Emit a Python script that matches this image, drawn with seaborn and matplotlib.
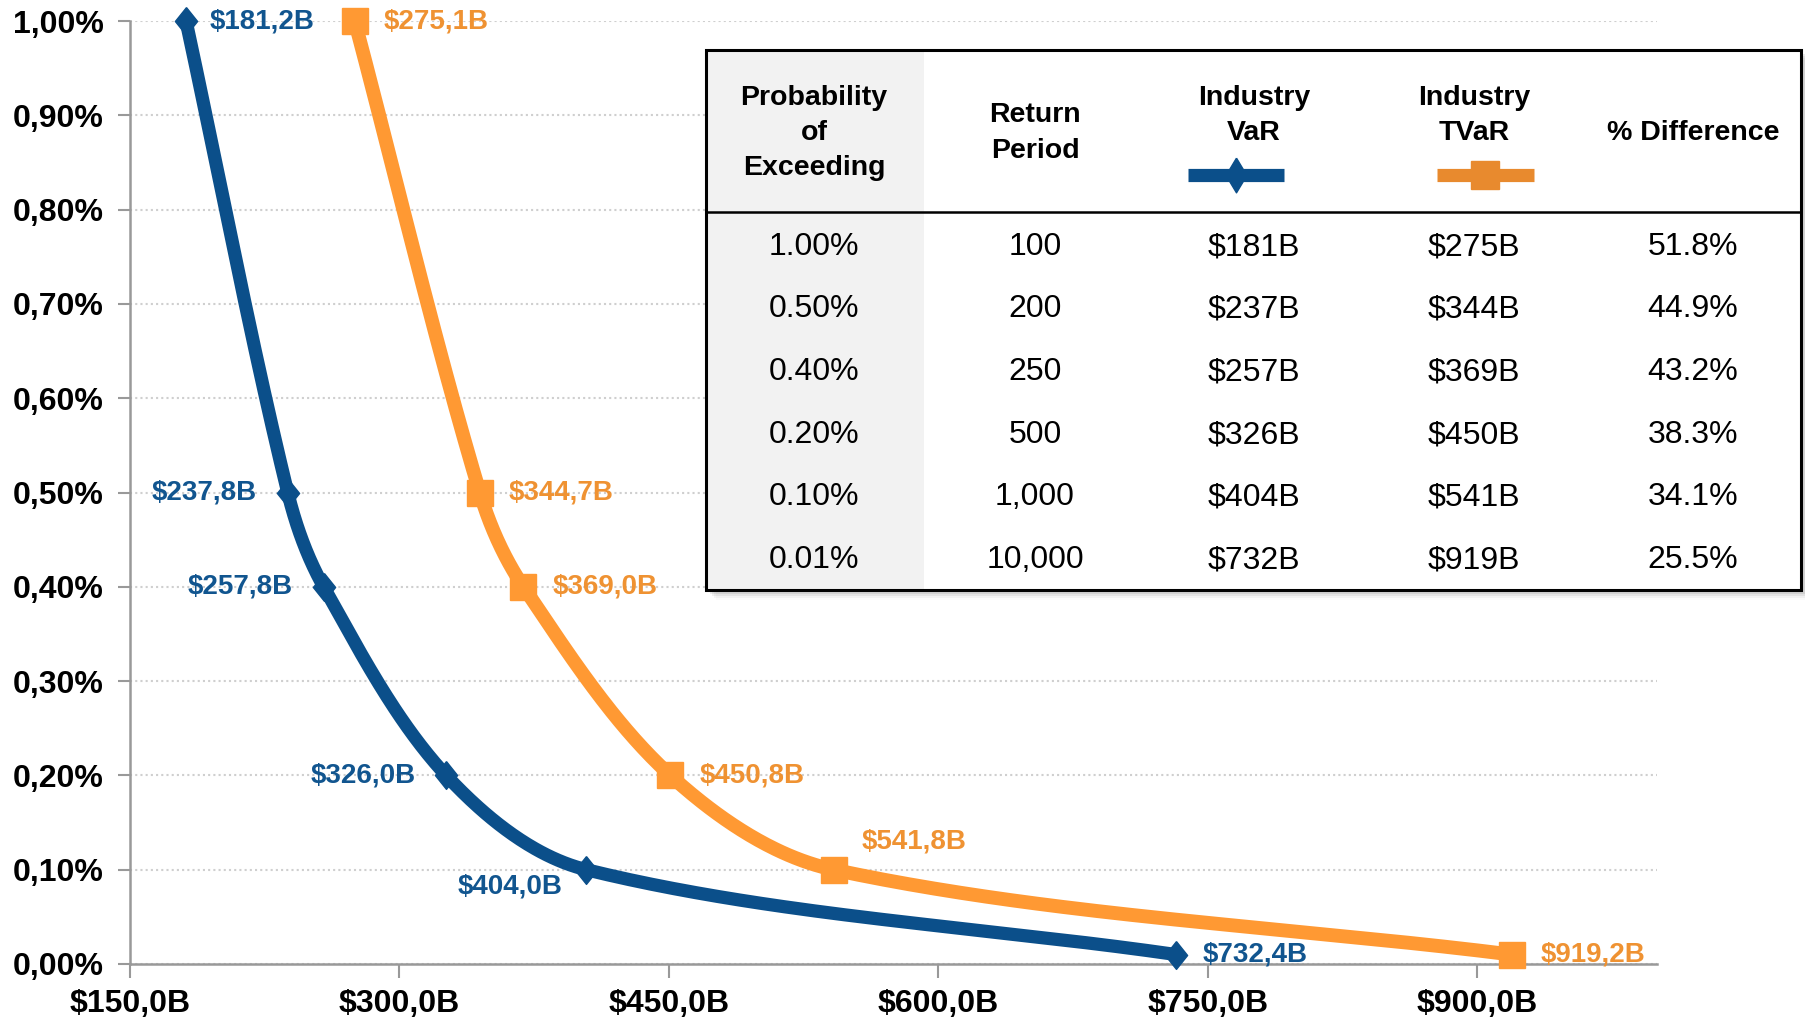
import numpy as np
import pandas as pd
import matplotlib
matplotlib.use("Agg")
import matplotlib.pyplot as plt
import seaborn as sns
from matplotlib.patches import Rectangle
from matplotlib.lines import Line2D

# ---------------- data ----------------
prob = [0.0100, 0.0050, 0.0040, 0.0020, 0.0010, 0.0001]
var_vals = [181.2, 237.8, 257.8, 326.0, 404.0, 732.4]
tvar_vals = [275.1, 344.7, 369.0, 450.8, 541.8, 919.2]
var_labels = ["$181,2B", "$237,8B", "$257,8B", "$326,0B", "$404,0B", "$732,4B"]
tvar_labels = ["$275,1B", "$344,7B", "$369,0B", "$450,8B", "$541,8B", "$919,2B"]
x_ticks = [150, 300, 450, 600, 750, 900]
x_ticklabels = ["$150,0B", "$300,0B", "$450,0B", "$600,0B", "$750,0B", "$900,0B"]
y_ticks = [0.000, 0.001, 0.002, 0.003, 0.004, 0.005, 0.006, 0.007, 0.008, 0.009, 0.010]
y_ticklabels = ["0,00%", "0,10%", "0,20%", "0,30%", "0,40%", "0,50%",
                "0,60%", "0,70%", "0,80%", "0,90%", "1,00%"]

tbl_header = [["Probability", "of", "Exceeding"], ["Return", "Period"],
              ["Industry", "VaR"], ["Industry", "TVaR"], ["% Difference"]]
tbl_prob = ["1.00%", "0.50%", "0.40%", "0.20%", "0.10%", "0.01%"]
tbl_period = ["100", "200", "250", "500", "1,000", "10,000"]
tbl_var = ["$181B", "$237B", "$257B", "$326B", "$404B", "$732B"]
tbl_tvar = ["$275B", "$344B", "$369B", "$450B", "$541B", "$919B"]
tbl_diff = ["51.8%", "44.9%", "43.2%", "38.3%", "34.1%", "25.5%"]

BLUE = "#0B4F8A"
BLUE_TXT = "#11558F"
ORANGE = "#FF9933"
ORANGE_TXT = "#EF9232"
ORANGE_LEG = "#E88A2E"

sns.set_theme(style="white")
plt.rcParams["font.family"] = ["Liberation Sans", "DejaVu Sans"]

W, H = 1806, 1021
fig = plt.figure(figsize=(W / 100, H / 100), dpi=100)
ax = fig.add_axes([130 / W, 1 - 964 / H, (1657 - 130) / W, (964 - 21) / H])
ax.set_xlim(150, 1000)
ax.set_ylim(0, 0.01)


def smooth(ax, xs, ys, n=80):
    """Chord-length Catmull-Rom curve through the points, computed in screen space."""
    P = ax.transData.transform(np.column_stack([xs, ys]))
    d = np.linalg.norm(np.diff(P, axis=0), axis=1)
    m = np.zeros_like(P)
    for i in range(len(P)):
        if i == 0:
            m[i] = (P[1] - P[0]) / d[0]
        elif i == len(P) - 1:
            m[i] = (P[-1] - P[-2]) / d[-1]
        else:
            m[i] = (P[i + 1] - P[i - 1]) / (d[i - 1] + d[i])
    out = []
    for i in range(len(P) - 1):
        p1, p2 = P[i], P[i + 1]
        c1 = p1 + m[i] * d[i] / 3
        c2 = p2 - m[i + 1] * d[i] / 3
        t = np.linspace(0, 1, n)[:, None]
        seg = (1 - t) ** 3 * p1 + 3 * (1 - t) ** 2 * t * c1 + 3 * (1 - t) * t ** 2 * c2 + t ** 3 * p2
        out.append(seg if i == 0 else seg[1:])
    return ax.transData.inverted().transform(np.vstack(out))


sv = smooth(ax, var_vals, prob)
st = smooth(ax, tvar_vals, prob)
sns.lineplot(x=sv[:, 0], y=sv[:, 1], sort=False, estimator=None, color=BLUE,
             linewidth=9.5, ax=ax, zorder=3, clip_on=False)
sns.lineplot(x=st[:, 0], y=st[:, 1], sort=False, estimator=None, color=ORANGE,
             linewidth=10, ax=ax, zorder=3, clip_on=False)

diamond = [(0, 1), (0.8, 0), (0, -1), (-0.8, 0), (0, 1)]
ax.plot(var_vals, prob, linestyle="none", marker=diamond, markersize=20,
        color=BLUE, zorder=4, clip_on=False)
ax.plot(tvar_vals, prob, linestyle="none", marker="s", markersize=18.5,
        color=ORANGE, zorder=4, clip_on=False)

# data labels (offset in points, ha)
var_off = [((17, 0), "left"), ((-22, 0), "right"), ((-22, 0), "right"),
           ((-22, 0), "right"), ((-55, -12), "center"), ((19, 0), "left")]
tvar_off = [((21, 0), "left"), ((21, 0), "left"), ((21, 0), "left"),
            ((21, 0), "left"), ((58, 20), "center"), ((21, 0), "left")]
for xv, yv, lab, (off, ha) in zip(var_vals, prob, var_labels, var_off):
    ax.annotate(lab, (xv, yv), xytext=off, textcoords="offset points", ha=ha,
                va="center", fontsize=20, fontweight="bold", color=BLUE_TXT, zorder=5)
for xv, yv, lab, (off, ha) in zip(tvar_vals, prob, tvar_labels, tvar_off):
    ax.annotate(lab, (xv, yv), xytext=off, textcoords="offset points", ha=ha,
                va="center", fontsize=20, fontweight="bold", color=ORANGE_TXT, zorder=5)

# axes styling
ax.set_xticks(x_ticks)
ax.set_xticklabels(x_ticklabels)
ax.set_yticks(y_ticks)
ax.set_yticklabels(y_ticklabels)
for lab in ax.get_xticklabels() + ax.get_yticklabels():
    lab.set_fontweight("bold")
    lab.set_fontsize(23)
    lab.set_color("black")
ax.tick_params(axis="y", direction="out", length=9, width=1.5, color="#999999", pad=10, left=True)
ax.tick_params(axis="x", direction="out", length=10, width=1.5, color="#999999", pad=8, bottom=True)
ax.yaxis.grid(True, linestyle=(0, (1, 1.5)), color="#CFCFCF", linewidth=1.5)
ax.xaxis.grid(False)
for s in ["top", "right"]:
    ax.spines[s].set_visible(False)
for s in ["left", "bottom"]:
    ax.spines[s].set_color("#999999")
    ax.spines[s].set_linewidth(1.8)
ax.set_xlabel("")
ax.set_ylabel("")

# ---------------- table overlay (pixel coords) ----------------
tab = fig.add_axes([0, 0, 1, 1], zorder=10)
tab.set_xlim(0, W)
tab.set_ylim(H, 0)
tab.axis("off")
tab.patch.set_alpha(0)

x0, x1, y0, y1 = 706, 1801, 50, 590
for k, a in enumerate([0.10, 0.08, 0.06, 0.04, 0.02]):
    d = 2 + 2 * k
    tab.add_patch(Rectangle((x0 + d, y0 + d), x1 - x0, y1 - y0, facecolor="black",
                            edgecolor="none", alpha=a, zorder=1))
tab.add_patch(Rectangle((x0, y0), x1 - x0, y1 - y0, facecolor="white",
                        edgecolor="none", zorder=2))
tab.add_patch(Rectangle((x0, y0), 924 - x0, y1 - y0, facecolor="#F2F2F2",
                        edgecolor="none", zorder=3))
tab.add_patch(Rectangle((x0, y0), x1 - x0, y1 - y0, facecolor="none",
                        edgecolor="black", linewidth=2.2, zorder=6))
tab.add_line(Line2D([x0, x1], [212, 212], color="black", linewidth=1.8, zorder=6))

col_x = [814, 1035, 1254, 1474, 1693]
line_h = 35
header_center = 133
for cx, lines in zip(col_x, tbl_header):
    n = len(lines)
    if lines[0] == "Industry":
        start = 98
    else:
        start = header_center - (n - 1) * line_h / 2
    for j, t in enumerate(lines):
        tab.text(cx, start + j * line_h, t, ha="center", va="center",
                 fontsize=20.5, fontweight="bold", color="black", zorder=7)

# legend markers in header
tab.add_line(Line2D([1188, 1284], [175, 175], color=BLUE, linewidth=9.5,
                    solid_capstyle="butt", zorder=7))
tab.add_line(Line2D([1236], [175], marker=[(0, 1), (0.6, 0), (0, -1), (-0.6, 0), (0, 1)],
                    markersize=25, color=BLUE, linestyle="none", zorder=8))
tab.add_line(Line2D([1437, 1534], [175, 175], color=ORANGE_LEG, linewidth=9.5,
                    solid_capstyle="butt", zorder=7))
tab.add_line(Line2D([1485], [175], marker="s", markersize=20, color=ORANGE_LEG,
                    linestyle="none", zorder=8))

row_y = [247, 309, 372, 435, 497, 560]
cols = [tbl_prob, tbl_period, tbl_var, tbl_tvar, tbl_diff]
for cx, col in zip(col_x, cols):
    for ry, t in zip(row_y, col):
        tab.text(cx, ry, t, ha="center", va="center", fontsize=23,
                 color="black", zorder=7)

fig.savefig("out.png", dpi=100)
